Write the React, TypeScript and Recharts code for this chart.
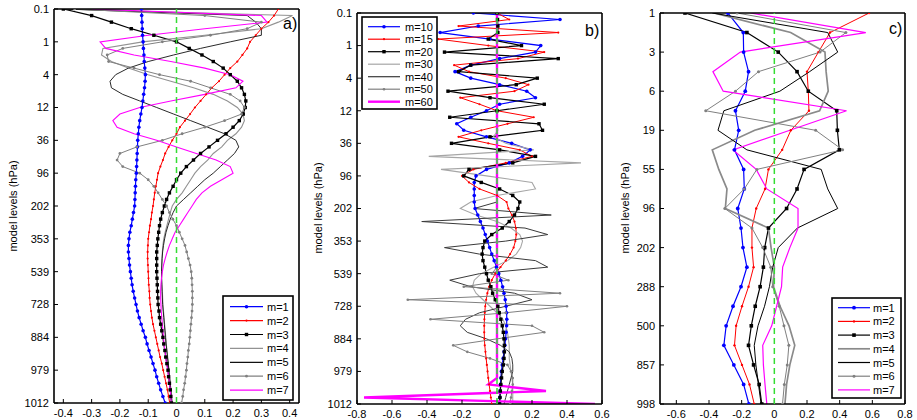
import React from 'react'
import { LineChart, Line, XAxis, YAxis, ReferenceLine } from 'recharts'

// ---------- panel a) : modes m=1..7, 60 model levels ----------
const levelLabelsA = ['0.1', '1', '4', '12', '36', '96', '202', '353', '539', '728', '884', '979', '1012']
const xTicksA = [-0.4, -0.3, -0.2, -0.1, 0, 0.1, 0.2, 0.3, 0.4]

const aM1 = [
  -0.124, -0.123, -0.122, -0.121, -0.12, -0.118, -0.117, -0.115, -0.114, -0.112,
  -0.11, -0.111, -0.113, -0.116, -0.119, -0.122, -0.126, -0.13, -0.133, -0.135,
  -0.137, -0.138, -0.139, -0.14, -0.141, -0.142, -0.144, -0.145, -0.146, -0.147,
  -0.148, -0.152, -0.156, -0.16, -0.165, -0.168, -0.17, -0.17, -0.168, -0.166,
  -0.163, -0.16, -0.157, -0.153, -0.148, -0.143, -0.138, -0.132, -0.125, -0.118,
  -0.11, -0.104, -0.097, -0.09, -0.083, -0.076, -0.07, -0.063, -0.056, -0.048,
  -0.04,
]
const aM2 = [
  0.36, 0.345, 0.325, 0.3, 0.28, 0.26, 0.25, 0.233, 0.215, 0.19,
  0.17, 0.15, 0.125, 0.105, 0.085, 0.065, 0.048, 0.03, 0.012, 0.0,
  -0.015, -0.028, -0.04, -0.048, -0.057, -0.065, -0.069, -0.073, -0.077, -0.08,
  -0.083, -0.087, -0.09, -0.094, -0.097, -0.1, -0.101, -0.102, -0.102, -0.101,
  -0.1, -0.099, -0.098, -0.096, -0.095, -0.093, -0.09, -0.087, -0.083, -0.078,
  -0.073, -0.068, -0.063, -0.058, -0.052, -0.047, -0.042, -0.037, -0.032, -0.028,
  -0.024,
]
const aM3 = [
  -0.4, -0.3, -0.23, -0.16, -0.08, 0.0, 0.045, 0.09, 0.13, 0.165,
  0.19, 0.215, 0.23, 0.24, 0.245, 0.243, 0.236, 0.222, 0.2, 0.175,
  0.145, 0.115, 0.085, 0.06, 0.035, 0.015, 0.0, -0.012, -0.025, -0.035,
  -0.043, -0.05, -0.056, -0.06, -0.063, -0.066, -0.068, -0.07, -0.07, -0.07,
  -0.07, -0.069, -0.068, -0.067, -0.066, -0.065, -0.062, -0.06, -0.056, -0.052,
  -0.048, -0.045, -0.041, -0.038, -0.034, -0.03, -0.028, -0.025, -0.022, -0.02,
  -0.018,
]
const aM4 = [
  -0.4, 0.41, 0.36, 0.3, 0.1, -0.12, -0.26, -0.265, -0.23, -0.17,
  -0.1, -0.02, 0.06, 0.13, 0.18, 0.215, 0.235, 0.24, 0.23, 0.21,
  0.18, 0.16, 0.13, 0.11, 0.085, 0.065, 0.05, 0.035, 0.02, 0.0,
  -0.015, -0.022, -0.028, -0.034, -0.04, -0.045, -0.048, -0.05, -0.051, -0.052,
  -0.052, -0.052, -0.051, -0.05, -0.049, -0.048, -0.046, -0.044, -0.042, -0.04,
  -0.038, -0.036, -0.034, -0.031, -0.029, -0.027, -0.024, -0.022, -0.02, -0.018,
  -0.015,
]
const aM5 = [
  -0.4, 0.25, 0.28, 0.3, 0.3, 0.19, 0.085, -0.01, -0.1, -0.17,
  -0.215, -0.235, -0.23, -0.19, -0.13, -0.07, -0.01, 0.05, 0.11, 0.17,
  0.21, 0.22, 0.205, 0.18, 0.155, 0.13, 0.1, 0.075, 0.05, 0.025,
  0.0, -0.012, -0.022, -0.03, -0.037, -0.042, -0.046, -0.049, -0.051, -0.052,
  -0.053, -0.053, -0.052, -0.051, -0.05, -0.049, -0.047, -0.045, -0.043, -0.041,
  -0.039, -0.037, -0.034, -0.032, -0.029, -0.027, -0.025, -0.022, -0.02, -0.018,
  -0.016,
]
const aM6 = [
  -0.36, 0.1, 0.3, 0.25, 0.12, -0.05, -0.19, -0.245, -0.24, -0.15,
  -0.06, 0.05, 0.12, 0.19, 0.225, 0.24, 0.23, 0.17, 0.1, 0.02,
  -0.05, -0.14, -0.2, -0.21, -0.19, -0.13, -0.1, -0.08, -0.065, -0.05,
  -0.035, -0.025, -0.013, 0.0, 0.01, 0.02, 0.03, 0.036, 0.042, 0.048,
  0.052, 0.054, 0.055, 0.056, 0.056, 0.056, 0.055, 0.053, 0.051, 0.049,
  0.047, 0.045, 0.042, 0.04, 0.037, 0.035, 0.032, 0.029, 0.025, 0.022,
  0.018,
]
const aM7 = [
  -0.3, 0.3, 0.32, 0.1, -0.1, -0.27, -0.25, -0.15, -0.02, 0.1,
  0.19, 0.235, 0.21, 0.1, -0.02, -0.13, -0.2, -0.225, -0.21, -0.15,
  -0.07, 0.0, 0.07, 0.14, 0.19, 0.2, 0.16, 0.12, 0.09, 0.07,
  0.055, 0.04, 0.025, 0.01, -0.005, -0.015, -0.025, -0.033, -0.04, -0.046,
  -0.05, -0.053, -0.055, -0.056, -0.056, -0.055, -0.054, -0.052, -0.05, -0.048,
  -0.046, -0.044, -0.041, -0.038, -0.035, -0.031, -0.028, -0.025, -0.022, -0.02,
  -0.018,
]

// ---------- panel b) : modes m=10..60 ----------
const levelLabelsB = ['0.1', '1', '4', '12', '36', '96', '202', '353', '539', '728', '884', '979', '1012']
const xTicksB = [-0.8, -0.6, -0.4, -0.2, 0, 0.2, 0.4, 0.6]

const bM10 = [
  -0.135, 0.36, -0.107, -0.325, -0.04, 0.25, 0.22, 0.015, -0.15, -0.24,
  -0.15, 0.015, 0.17, 0.22, 0.015, -0.06, -0.15, -0.23, -0.19, -0.06,
  0.084, 0.19, 0.146, 0.07, -0.06, -0.12, -0.13, -0.13, -0.13, -0.13,
  -0.125, -0.11, -0.095, -0.08, -0.067, -0.055, -0.042, -0.03, -0.016, -0.003,
  0.01, 0.022, 0.032, 0.04, 0.047, 0.052, 0.055, 0.056, 0.055, 0.052,
  0.049, 0.045, 0.04, 0.035, 0.03, 0.025, 0.022, 0.02, 0.018, 0.016,
  0.015,
]
const bM15 = [
  0, 0.07, -0.22, 0.35, -0.336, -0.05, 0.27, 0.12, -0.245, -0.16,
  0.05, 0.18, 0.1, -0.21, -0.1, 0.0, 0.21, 0.06, -0.09, -0.22,
  -0.05, 0.13, 0.2, 0.05, -0.135, -0.2, -0.16, -0.1, 0.0, 0.055,
  0.065, 0.085, 0.1, 0.108, 0.11, 0.105, 0.095, 0.075, 0.05, 0.02,
  -0.01, -0.03, -0.045, -0.055, -0.062, -0.067, -0.07, -0.072, -0.073, -0.073,
  -0.072, -0.07, -0.066, -0.062, -0.058, -0.054, -0.05, -0.045, -0.04, -0.035,
  -0.03,
]
const bM20 = [
  0, 0.003, 0.005, 0.005, -0.05, 0.14, -0.3, 0.35, -0.15, -0.22,
  0.23, 0.11, -0.28, -0.04, 0.27, 0.0, -0.27, 0.24, 0.26, -0.04,
  -0.26, 0.015, 0.22, 0.09, -0.16, -0.19, -0.09, 0.015, 0.09, 0.13,
  0.12, 0.1, 0.07, 0.03, -0.03, -0.07, -0.08, -0.085, -0.08, -0.07,
  -0.06, -0.05, -0.035, -0.025, -0.01, 0.005, 0.013, 0.022, 0.03, 0.036,
  0.04, 0.042, 0.042, 0.04, 0.036, 0.03, 0.026, 0.022, 0.019, 0.017,
  0.015,
]
const bM30 = [
  0, 0, 0, 0, 0, 0, 0, 0, 0, 0,
  0, 0, 0, 0, 0, 0, 0, 0, 0.005, -0.02,
  0.05, 0.21, -0.39, 0.48, -0.32, -0.06, 0.2, 0.22, 0.0, -0.15,
  -0.21, -0.12, 0.0, 0.08, 0.13, 0.146, 0.135, 0.11, 0.06, -0.02,
  -0.09, -0.13, -0.14, -0.12, -0.08, -0.04, 0.0, 0.034, 0.05, 0.06,
  0.065, 0.07, 0.07, 0.07, 0.075, 0.08, 0.085, 0.09, 0.09, 0.09,
  0.09,
]
const bM40 = [
  0, 0, 0, 0, 0, 0, 0, 0, 0, 0,
  0, 0, 0, 0, 0, 0, 0, 0, 0, 0,
  0, 0, 0, 0, 0, 0, 0, 0, 0, 0,
  -0.13, 0.31, -0.43, 0.16, 0.29, 0.05, -0.3, -0.1, 0.22, 0.29,
  -0.1, -0.27, -0.15, 0.1, 0.2, 0.05, -0.1, -0.18, -0.21, -0.17,
  -0.06, 0.02, 0.07, 0.085, 0.09, 0.09, 0.08, 0.07, 0.06, 0.05,
  0.04,
]
const bM50 = [
  0, 0, 0, 0, 0, 0, 0, 0, 0, 0,
  0, 0, 0, 0, 0, 0, 0, 0, 0, 0,
  0, 0, 0, 0, 0, 0, 0, 0, 0, 0,
  0, 0, 0, 0, 0, 0, 0, 0, 0, 0,
  -0.03, 0.065, -0.19, 0.36, -0.51, 0.4, 0.05, -0.38, 0.2, 0.27,
  0.0, -0.25, -0.17, -0.04, 0.06, 0.08, 0.09, 0.09, 0.085, 0.08,
  0.075,
]
const bM60 = [
  0, 0, 0, 0, 0, 0, 0, 0, 0, 0,
  0, 0, 0, 0, 0, 0, 0, 0, 0, 0,
  0, 0, 0, 0, 0, 0, 0, 0, 0, 0,
  0, 0, 0, 0, 0, 0, 0, 0, 0, 0,
  0, 0, 0, 0, 0, 0, 0, 0, 0, 0,
  0, 0, 0, 0, 0, 0, 0, -0.05, 0.28, -0.76,
  0.56,
]

// ---------- panel c) : modes m=1..7, 20 levels ----------
const levelLabelsC = ['1', '3', '6', '19', '55', '96', '202', '288', '500', '857', '998']
const xTicksC = [-0.6, -0.4, -0.2, 0, 0.2, 0.4, 0.6, 0.8]

const cM1 = [-0.285, -0.19, -0.188, -0.158, -0.178, -0.238, -0.218, -0.244, -0.188, -0.184, -0.224, -0.204, -0.192, -0.168, -0.204, -0.253, -0.295, -0.309, -0.248, -0.188, -0.156]
const cM2 = [0.58, 0.341, 0.27, 0.2, 0.208, 0.212, 0.101, 0.048, -0.036, -0.057, -0.111, -0.137, -0.137, -0.127, -0.158, -0.198, -0.234, -0.244, -0.198, -0.152, -0.123]
const cM3 = [-0.547, -0.168, 0.024, 0.139, 0.208, 0.382, 0.386, 0.398, 0.182, 0.139, 0.075, -0.036, -0.059, -0.067, -0.087, -0.117, -0.141, -0.158, -0.127, -0.093, -0.077]
const cM4 = [-0.37, 0.1, 0.31, 0.317, 0.33, 0.277, -0.12, -0.38, -0.34, -0.29, -0.3, -0.036, -0.02, 0.0, -0.005, 0.035, 0.09, 0.125, 0.095, 0.075, 0.065]
const cM5 = [-0.38, 0.327, 0.388, 0.216, 0.034, -0.309, -0.345, -0.168, 0.287, 0.327, 0.388, 0.141, 0.024, -0.01, -0.03, -0.06, -0.1, -0.123, -0.113, -0.097, -0.081]
const cM6 = [-0.228, 0.438, 0.28, -0.097, -0.238, -0.42, 0.253, 0.418, -0.107, -0.184, -0.303, -0.137, -0.071, -0.022, -0.01, 0.03, 0.059, 0.089, 0.079, 0.061, 0.05]
const cM7 = [-0.147, 0.56, -0.208, -0.376, -0.313, 0.442, 0.095, -0.253, -0.111, -0.046, 0.145, 0.145, 0.095, 0.051, 0.044, 0.014, -0.016, -0.071, -0.067, -0.057, -0.046]

// ---------- styles ----------
type Marker = 'circle' | 'square' | null
interface SeriesStyle {
  key: string
  name: string
  color: string
  width: number
  marker: Marker
  size: number
  hideZeroDots?: boolean
}

const FONT = "'Liberation Sans', Arial, Helvetica, sans-serif"

const stylesA: SeriesStyle[] = [
  { key: 's1', name: 'm=1', color: '#0000ff', width: 1.2, marker: 'circle', size: 1.8 },
  { key: 's2', name: 'm=2', color: '#ff0000', width: 1, marker: 'circle', size: 1.1 },
  { key: 's3', name: 'm=3', color: '#000000', width: 1.2, marker: 'square', size: 3.4 },
  { key: 's4', name: 'm=4', color: '#929292', width: 1.1, marker: null, size: 0 },
  { key: 's5', name: 'm=5', color: '#111111', width: 0.9, marker: null, size: 0 },
  { key: 's6', name: 'm=6', color: '#808080', width: 1, marker: 'circle', size: 1.4 },
  { key: 's7', name: 'm=7', color: '#ff00ff', width: 1.1, marker: null, size: 0 },
]
// in b) the untouched upper part of the high modes sits under the m=60 line
const stylesB: SeriesStyle[] = [
  { key: 's1', name: 'm=10', color: '#0000ff', width: 1.2, marker: 'circle', size: 1.8 },
  { key: 's2', name: 'm=15', color: '#ff0000', width: 1, marker: 'circle', size: 1.1 },
  { key: 's3', name: 'm=20', color: '#000000', width: 1.2, marker: 'square', size: 3.4 },
  { key: 's4', name: 'm=30', color: '#a6a6a6', width: 1.1, marker: null, size: 0 },
  { key: 's5', name: 'm=40', color: '#3a3a3a', width: 1, marker: null, size: 0 },
  { key: 's6', name: 'm=50', color: '#808080', width: 1, marker: 'circle', size: 1.3, hideZeroDots: true },
  { key: 's7', name: 'm=60', color: '#ff00ff', width: 2.4, marker: null, size: 0 },
]
const stylesC: SeriesStyle[] = [
  { key: 's1', name: 'm=1', color: '#0000ff', width: 1.2, marker: 'circle', size: 1.9 },
  { key: 's2', name: 'm=2', color: '#ff0000', width: 1, marker: 'circle', size: 1.2 },
  { key: 's3', name: 'm=3', color: '#000000', width: 1.2, marker: 'square', size: 3.6 },
  { key: 's4', name: 'm=4', color: '#8a8a8a', width: 1.7, marker: null, size: 0 },
  { key: 's5', name: 'm=5', color: '#000000', width: 1, marker: null, size: 0 },
  { key: 's6', name: 'm=6', color: '#808080', width: 1, marker: 'circle', size: 1.5 },
  { key: 's7', name: 'm=7', color: '#ff00ff', width: 1.2, marker: null, size: 0 },
]

function buildRows(series: number[][], styles: SeriesStyle[]) {
  return series[0].map((_, i) => {
    const row: Record<string, number> = { lev: i }
    styles.forEach((s, j) => {
      row[s.key] = series[j][i]
    })
    return row
  })
}

const rowsA = buildRows([aM1, aM2, aM3, aM4, aM5, aM6, aM7], stylesA)
const rowsB = buildRows([bM10, bM15, bM20, bM30, bM40, bM50, bM60], stylesB)
const rowsC = buildRows([cM1, cM2, cM3, cM4, cM5, cM6, cM7], stylesC)

function makeDot(s: SeriesStyle) {
  if (!s.marker) return false
  if (s.marker === 'square') {
    return (p: any) => (
      <rect key={'d' + p.index} x={p.cx - s.size / 2} y={p.cy - s.size / 2} width={s.size} height={s.size} fill={s.color} />
    )
  }
  return (p: any) => {
    if (s.hideZeroDots && p.value === 0) return <g key={'d' + p.index} />
    return <circle key={'d' + p.index} cx={p.cx} cy={p.cy} r={s.size} fill={s.color} />
  }
}

const fmtX = (v: number) => (v === 0 ? '0' : String(v))

interface PanelProps {
  left: number
  width: number
  plot: [number, number, number, number] // left, right, top, bottom
  rows: Record<string, number>[]
  styles: SeriesStyle[]
  xDomain: [number, number]
  xTicks: number[]
  levelLabels: string[]
  step: number
}

function Panel({ left, width, plot, rows, styles, xDomain, xTicks, levelLabels, step }: PanelProps) {
  const H = 420
  const yAxisW = 40
  const [pl, pr, pt, pb] = plot
  const bottomH = H - pb
  const yMax = (levelLabels.length - 1) * step
  const yTicks = levelLabels.map((_, i) => i * step)
  const margin = { left: pl - left - yAxisW, right: left + width - pr - 1, top: pt - 1, bottom: 0 }
  const axisLine = { stroke: '#000', strokeWidth: 1.6 }
  const tickLine = { stroke: '#000', strokeWidth: 1 }
  return (
    <div style={{ position: 'absolute', left, top: 0 }}>
      <LineChart layout="vertical" width={width} height={H} data={rows} margin={margin}>
        <XAxis
          type="number"
          domain={xDomain}
          ticks={xTicks}
          allowDataOverflow
          interval={0}
          height={bottomH}
          tickSize={-4}
          tickMargin={10}
          axisLine={axisLine}
          tickLine={tickLine}
          tickFormatter={fmtX}
          tick={{ fontSize: 11, fill: '#000' }}
        />
        <XAxis
          xAxisId="top"
          orientation="top"
          type="number"
          domain={xDomain}
          ticks={xTicks}
          allowDataOverflow
          interval={0}
          height={1}
          tickSize={-4}
          axisLine={axisLine}
          tickLine={tickLine}
          tick={false}
        />
        <YAxis
          type="number"
          dataKey="lev"
          domain={[0, yMax]}
          ticks={yTicks}
          allowDataOverflow
          interval={0}
          width={yAxisW}
          tickSize={-4}
          tickMargin={9}
          axisLine={axisLine}
          tickLine={tickLine}
          tickFormatter={(v: number) => levelLabels[Math.round(v / step)]}
          tick={{ fontSize: 11, fill: '#000' }}
        />
        <YAxis
          yAxisId="right"
          orientation="right"
          type="number"
          domain={[0, yMax]}
          ticks={yTicks}
          allowDataOverflow
          interval={0}
          width={1}
          tickSize={-4}
          axisLine={axisLine}
          tickLine={tickLine}
          tick={false}
        />
        {styles.map((s) => (
          <Line
            key={s.key}
            dataKey={s.key}
            name={s.name}
            stroke={s.color}
            strokeWidth={s.width}
            dot={makeDot(s)}
            activeDot={false}
            isAnimationActive={false}
          />
        ))}
        <ReferenceLine x={0} stroke="#33dd33" strokeWidth={1.5} strokeDasharray="6 4" {...({ zIndex: 1000 } as any)} />
      </LineChart>
    </div>
  )
}

interface LegendBoxProps {
  box: [number, number, number, number]
  row0: number
  gap: number
  sx0: number
  sx1: number
  tx: number
  styles: SeriesStyle[]
}

function LegendBox({ box, row0, gap, sx0, sx1, tx, styles }: LegendBoxProps) {
  const [x, y, w, h] = box
  const mid = (sx0 + sx1) / 2
  return (
    <g>
      <rect x={x} y={y} width={w} height={h} fill="#fff" stroke="#000" strokeWidth={1.6} />
      {styles.map((s, i) => {
        const ry = row0 + i * gap
        return (
          <g key={s.key}>
            <line x1={sx0} x2={sx1} y1={ry} y2={ry} stroke={s.color} strokeWidth={Math.max(s.width, 1.2)} />
            {s.marker === 'circle' && <circle cx={mid} cy={ry} r={s.size} fill={s.color} />}
            {s.marker === 'square' && (
              <rect x={mid - s.size / 2} y={ry - s.size / 2} width={s.size} height={s.size} fill={s.color} />
            )}
            <text x={tx} y={ry + 4} fontSize={11} fill="#000">
              {s.name}
            </text>
          </g>
        )
      })}
    </g>
  )
}

export default function App() {
  return (
    <div style={{ position: 'absolute', left: 0, top: 0, width: 917, height: 420, background: '#fff', fontFamily: FONT }}>
      <Panel
        left={0}
        width={300}
        plot={[54, 299, 9, 403]}
        rows={rowsA}
        styles={stylesA}
        xDomain={[-0.433, 0.433]}
        xTicks={xTicksA}
        levelLabels={levelLabelsA}
        step={5}
      />
      <Panel
        left={300}
        width={310}
        plot={[357, 602, 13, 404]}
        rows={rowsB}
        styles={stylesB}
        xDomain={[-0.8, 0.6]}
        xTicks={xTicksB}
        levelLabels={levelLabelsB}
        step={5}
      />
      <Panel
        left={610}
        width={307}
        plot={[660, 905, 13, 404]}
        rows={rowsC}
        styles={stylesC}
        xDomain={[-0.7, 0.8]}
        xTicks={xTicksC}
        levelLabels={levelLabelsC}
        step={2}
      />
      <svg width={917} height={420} style={{ position: 'absolute', left: 0, top: 0, pointerEvents: 'none' }} fontFamily={FONT}>
        <text transform="translate(17,206) rotate(-90)" textAnchor="middle" fontSize={11} fill="#000">
          model levels (hPa)
        </text>
        <text transform="translate(322,208) rotate(-90)" textAnchor="middle" fontSize={11} fill="#000">
          model levels (hPa)
        </text>
        <text transform="translate(629,208) rotate(-90)" textAnchor="middle" fontSize={11} fill="#000">
          model levels (hPa)
        </text>
        <text x={283} y={29} fontSize={16} fill="#000">a)</text>
        <text x={585} y={36} fontSize={16} fill="#000">b)</text>
        <text x={889} y={34} fontSize={16} fill="#000">c)</text>
        <LegendBox box={[223, 296, 70, 104]} row0={306.7} gap={13.9} sx0={230} sx1={263} tx={267} styles={stylesA} />
        <LegendBox box={[362, 17, 75, 92]} row0={26.7} gap={12.5} sx0={368} sx1={400} tx={405} styles={stylesB} />
        <LegendBox box={[832, 298, 69, 100]} row0={307.7} gap={13.7} sx0={838} sx1={870} tx={873} styles={stylesC} />
      </svg>
    </div>
  )
}
